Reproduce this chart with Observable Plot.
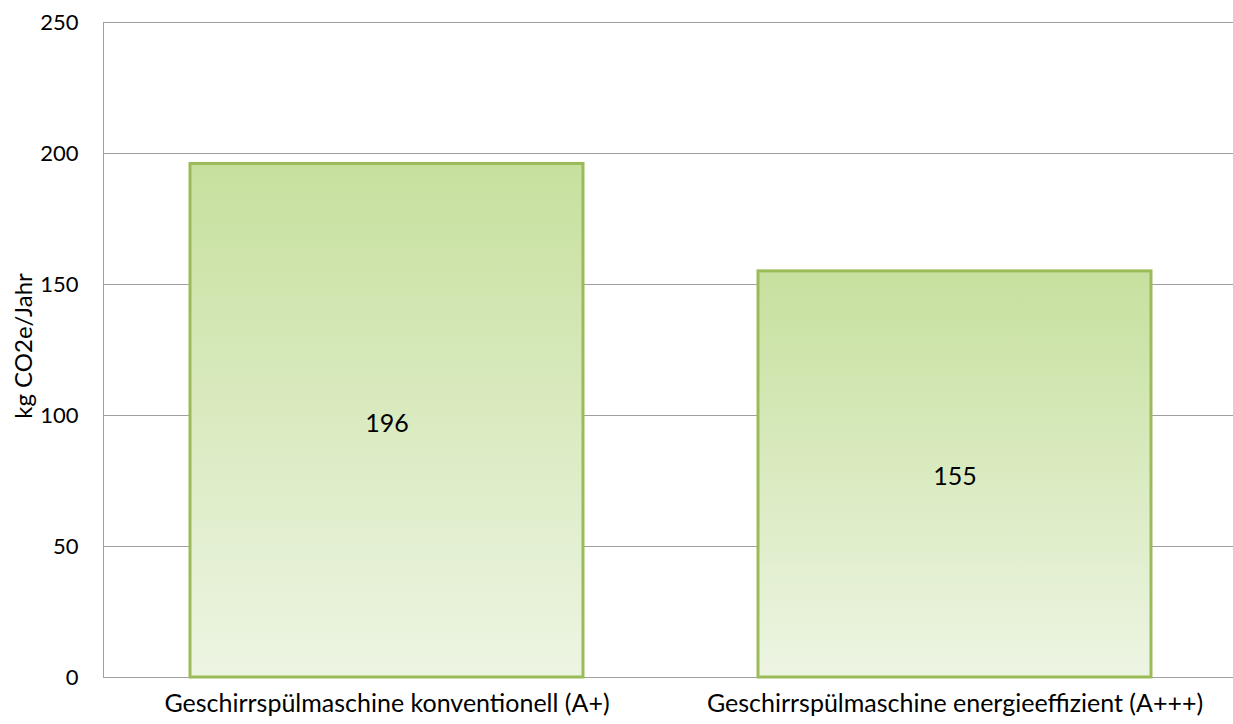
<!DOCTYPE html>
<html>
<head>
<meta charset="utf-8">
<script src="https://cdn.jsdelivr.net/npm/d3@7"></script>
<script src="https://cdn.jsdelivr.net/npm/@observablehq/plot@0.6"></script>
<style>
  html, body { margin: 0; padding: 0; background: #fff; }
  #chart svg { display: block; }
</style>
</head>
<body>
<div id="chart"></div>
<script>
const categories = ["Geschirrspülmaschine konventionell (A+)", "Geschirrspülmaschine energieeffizient (A+++)"];
const values = [196, 155];
const yTicks = [0, 50, 100, 150, 200, 250];
const yLabel = "kg CO2e/Jahr";

const data = categories.map((c, i) => ({category: c, value: values[i]}));
const font = "Lato, 'Open Sans', sans-serif";

const chart = Plot.plot({
  width: 1233,
  height: 724,
  marginLeft: 103,
  marginRight: 0,
  marginTop: 22,
  marginBottom: 47,
  style: {fontFamily: font, fontSize: "22px", color: "#000", background: "#fff"},
  x: {domain: categories, range: [103, 1238], paddingInner: 0.308, paddingOuter: 0.153, label: null, axis: null},
  y: {domain: [0, 250], label: null, axis: null},
  marks: [
    Plot.ruleY(yTicks, {stroke: "#a0a0a0", strokeWidth: 1}),
    Plot.barY(data, {x: "category", y: "value", fill: "url(#barGrad)", stroke: "#9bbb59", strokeWidth: 3}),
    Plot.text(data, {x: "category", y: d => d.value / 2, text: d => String(d.value), fontSize: 25, dy: 3, fill: "#000"}),
    Plot.text(yTicks, {y: d => d, text: d => String(d), frameAnchor: "left", textAnchor: "end", dx: -25, fontSize: 22, fill: "#000"}),
    Plot.text(categories, {x: d => d, y: 0, text: d => d, lineAnchor: "middle", dy: 26, fontSize: 25, fill: "#000"}),
    Plot.text([yLabel], {frameAnchor: "left", textAnchor: "middle", text: d => d, rotate: -90, dx: -79, dy: -4, fontSize: 24, fill: "#000"})
  ]
});

const svg = d3.select(chart);
svg.append("line")
  .attr("x1", 103.5).attr("x2", 103.5)
  .attr("y1", 22).attr("y2", 677)
  .attr("stroke", "#a0a0a0").attr("stroke-width", 1);

const defs = svg.insert("defs", ":first-child");
const grad = defs.append("linearGradient")
  .attr("id", "barGrad").attr("x1", 0).attr("y1", 0).attr("x2", 0).attr("y2", 1);
grad.append("stop").attr("offset", "0%").attr("stop-color", "#c7e09e");
grad.append("stop").attr("offset", "100%").attr("stop-color", "#edf5e3");

document.getElementById("chart").appendChild(chart);
</script>
</body>
</html>
